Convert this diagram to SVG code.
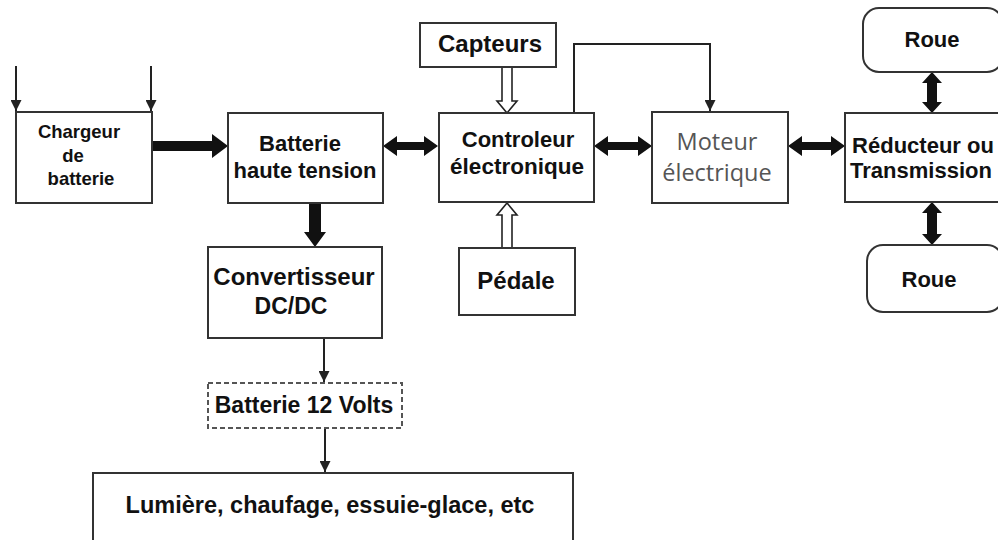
<svg xmlns="http://www.w3.org/2000/svg" width="998" height="540" viewBox="0 0 998 540">
<defs>
<marker id="ah" viewBox="0 0 10 10" refX="10" refY="5" markerWidth="11" markerHeight="11" markerUnits="userSpaceOnUse" orient="auto"><path d="M0,0 L10,5 L0,10 Z" fill="#222"/></marker>
<style>
.box{fill:#fff;stroke:#333;stroke-width:2}
.dash{fill:#fff;stroke:#555;stroke-width:2;stroke-dasharray:5 3}
.t{font-family:"Liberation Sans",Arial,sans-serif;font-weight:bold;font-size:22px;fill:#111;text-anchor:middle}
.ts{font-family:"Liberation Sans",Arial,sans-serif;font-weight:bold;font-size:18.5px;fill:#111;text-anchor:middle}
.tm{font-family:"Open Sans","Noto Sans",sans-serif;font-size:23.5px;fill:#555;text-anchor:middle}
.thin{fill:none;stroke:#222;stroke-width:2}
.fat{fill:#111;stroke:none}
.hol{fill:#fff;stroke:#222;stroke-width:1.6}
</style>
</defs>
<rect width="998" height="540" fill="#fff"/>
<g id="connectors">
<path class="thin" d="M16,66 V111" marker-end="url(#ah)"/>
<path class="thin" d="M151,66 V111" marker-end="url(#ah)"/>
<path class="fat" d="M152,141 H212 V134 L228,146 L212,158 V151 H152 Z"/>
<path class="fat" d="M383,146 L397,136 V142 H424 V136 L438,146 L424,156 V150 H397 V156 Z"/>
<path class="fat" d="M594,146 L608,136 V142 H638 V136 L652,146 L638,156 V150 H608 V156 Z"/>
<path class="fat" d="M788,146 L802,136 V142 H831 V136 L845,146 L831,156 V150 H802 V156 Z"/>
<path class="fat" d="M932,72 L942,83 H937 V102 H942 L932,113 L922,102 H927 V83 H922 Z"/>
<path class="fat" d="M932,202 L942,213 H937 V234 H942 L932,245 L922,234 H927 V213 H922 Z"/>
<path class="fat" d="M309,203 H321 V232 H326 L315,247 L304,232 H309 Z"/>
<path class="hol" d="M502,67 H512 V101 H517 L507,113 L497,101 H502 Z"/>
<path class="hol" d="M502,248 H512 V215 H517 L507,203 L497,215 H502 Z"/>
<path class="thin" d="M574,113 V44 H710 V111" marker-end="url(#ah)"/>
<path class="thin" d="M324,338 V382" marker-end="url(#ah)"/>
<path class="thin" d="M325,428 V472" marker-end="url(#ah)"/>
</g>
<g id="chargeur"><rect class="box" x="16" y="112" width="136" height="91"/>
<text class="ts" x="79" y="138">Chargeur</text><text class="ts" x="73" y="162">de</text><text class="ts" x="81" y="185">batterie</text></g>
<g id="batterie"><rect class="box" x="228" y="113" width="155" height="90"/>
<text class="t" x="300" y="151">Batterie</text><text class="t" x="305" y="178">haute tension</text></g>
<g id="controleur"><rect class="box" x="439" y="113" width="155" height="89"/>
<text class="t" x="518" y="147">Controleur</text><text class="t" x="517" y="174" style="font-size:22.5px">électronique</text></g>
<g id="capteurs"><rect class="box" x="420" y="23" width="136" height="44"/>
<text class="t" x="490" y="52" style="font-size:24px">Capteurs</text></g>
<g id="pedale"><rect class="box" x="459" y="248" width="116" height="67"/>
<text class="t" x="516" y="289" style="font-size:24px">Pédale</text></g>
<g id="moteur"><rect class="box" x="652" y="112" width="136" height="91"/>
<text class="tm" x="717" y="150">Moteur</text><text class="tm" x="717" y="181">électrique</text></g>
<g id="reducteur"><rect class="box" x="845" y="113" width="160" height="89"/>
<text class="t" x="923" y="153">Réducteur ou</text><text class="t" x="921" y="178">Transmission</text></g>
<g id="roue1"><rect class="box" x="863" y="8" width="140" height="64" rx="16"/>
<text class="t" x="932" y="47">Roue</text></g>
<g id="roue2"><rect class="box" x="867" y="245" width="136" height="67" rx="16"/>
<text class="t" x="929" y="287">Roue</text></g>
<g id="convertisseur"><rect class="box" x="208" y="247" width="174" height="91"/>
<text class="t" x="294" y="285" style="font-size:24px">Convertisseur</text><text class="t" x="291" y="314" style="font-size:23px">DC/DC</text></g>
<g id="batterie12"><rect class="dash" x="208" y="383" width="194" height="45"/>
<text class="t" x="304" y="413" style="font-size:23px">Batterie 12 Volts</text></g>
<g id="lumiere"><rect class="box" x="93" y="473" width="480" height="90"/>
<text class="t" x="330" y="513" style="font-size:23.5px">Lumière, chaufage, essuie-glace, etc</text></g>
</svg>
